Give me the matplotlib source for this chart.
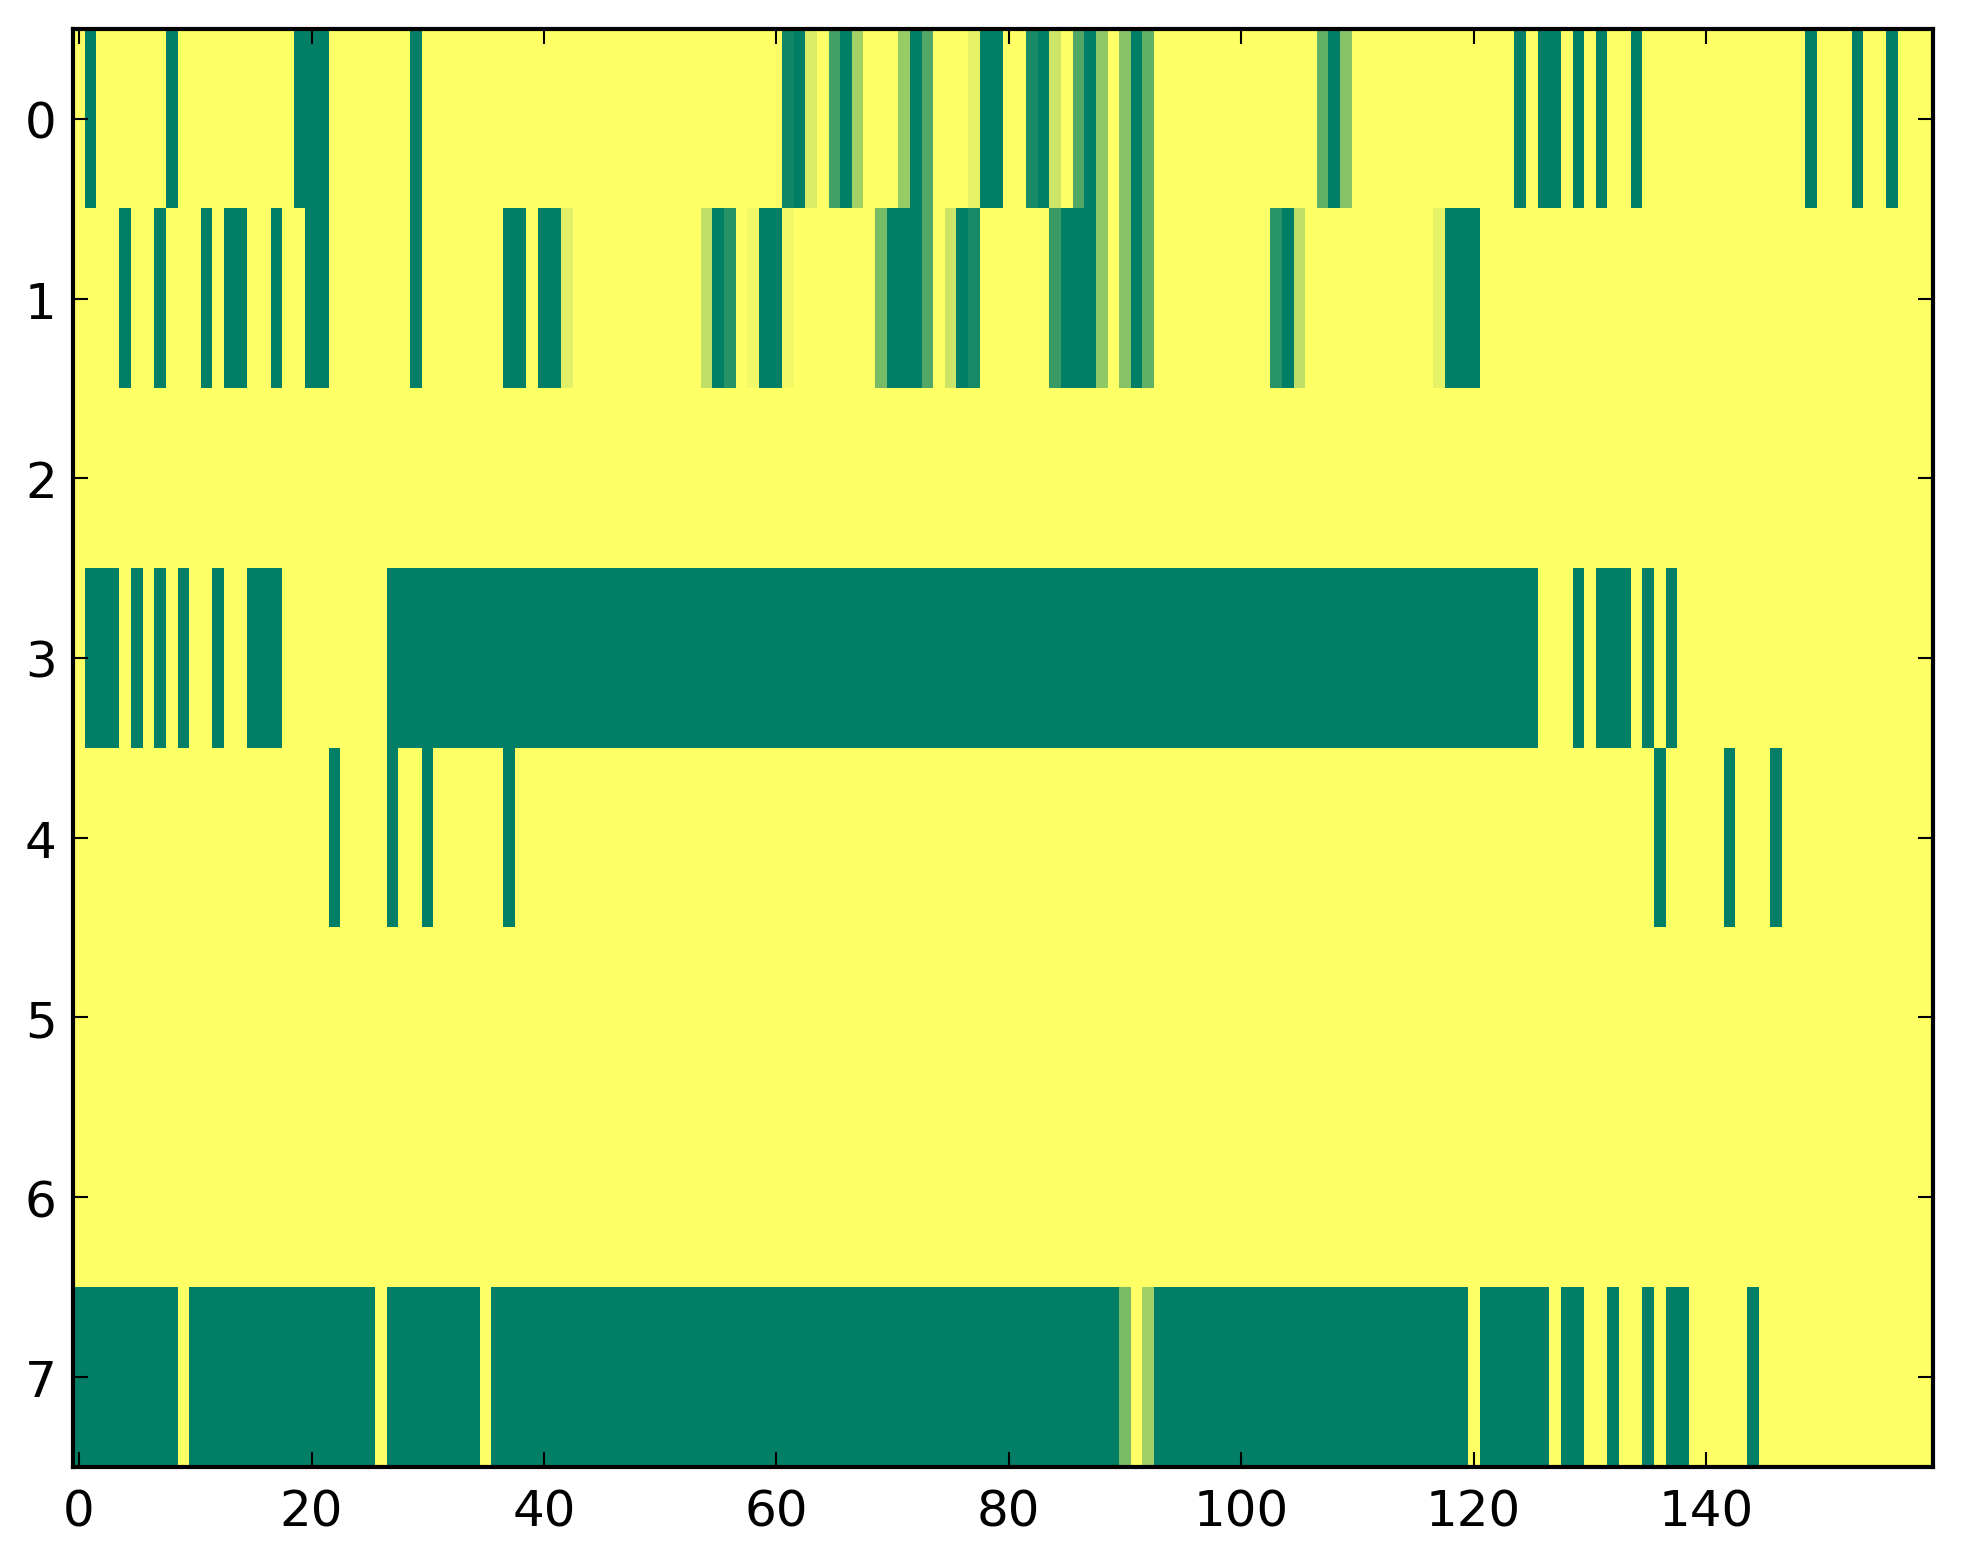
import numpy as np
import matplotlib
matplotlib.use("Agg")
import matplotlib.pyplot as plt

n_cols = 160
row_labels = [0, 1, 2, 3, 4, 5, 6, 7]
xticks = [0, 20, 40, 60, 80, 100, 120, 140]

# Each row: segments (first_col, last_col, value); all other cells are 0
row0 = [(1, 1, 1), (8, 8, 1), (19, 21, 1), (29, 29, 1), (61, 61, .94), (62, 62, 1),
        (63, 63, .15), (65, 65, .74), (66, 66, 1), (67, 67, .36), (71, 71, .41),
        (72, 72, 1), (73, 73, .68), (77, 77, .10), (78, 79, 1), (82, 82, .91),
        (83, 83, 1), (84, 84, .20), (86, 86, .68), (87, 87, 1), (88, 88, .43),
        (90, 90, .47), (91, 91, 1), (92, 92, .62), (107, 107, .62), (108, 108, 1),
        (109, 109, .47), (124, 124, 1), (126, 127, 1), (129, 129, 1), (131, 131, 1),
        (134, 134, 1), (149, 149, 1), (153, 153, 1), (156, 156, 1)]
row1 = [(4, 4, 1), (7, 7, 1), (11, 11, 1), (13, 14, 1), (17, 17, 1), (20, 21, 1),
        (29, 29, 1), (37, 38, 1), (40, 41, 1), (42, 42, .12), (54, 54, .25),
        (55, 55, 1), (56, 56, .85), (58, 58, .05), (59, 60, 1), (61, 61, .05),
        (69, 69, .53), (70, 72, 1), (73, 73, .68), (75, 75, .20), (76, 76, 1),
        (77, 77, .91), (84, 84, .78), (85, 87, 1), (88, 88, .43), (90, 90, .47),
        (91, 91, 1), (92, 92, .62), (103, 103, .84), (104, 104, 1), (105, 105, .25),
        (117, 117, .10), (118, 120, 1)]
row2 = []
row3 = [(1, 3, 1), (5, 5, 1), (7, 7, 1), (9, 9, 1), (12, 12, 1), (15, 17, 1),
        (27, 125, 1), (129, 129, 1), (131, 133, 1), (135, 135, 1), (137, 137, 1)]
row4 = [(22, 22, 1), (27, 27, 1), (30, 30, 1), (37, 37, 1), (136, 136, 1),
        (142, 142, 1), (146, 146, 1)]
row5 = []
row6 = []
row7 = [(0, 8, 1), (10, 25, 1), (27, 34, 1), (36, 89, 1), (90, 90, .53),
        (92, 92, .37), (93, 119, 1), (121, 126, 1), (128, 129, 1), (132, 132, 1),
        (135, 135, 1), (137, 138, 1), (144, 144, 1)]

rows = [row0, row1, row2, row3, row4, row5, row6, row7]
data = np.zeros((len(rows), n_cols))
for r, segs in enumerate(rows):
    for a, b, v in segs:
        data[r, a:b + 1] = v

plt.rcParams['font.family'] = ['DejaVu Sans']
fig = plt.figure(figsize=(1963 / 300, 1564 / 300), dpi=300, facecolor='white')
ax = fig.add_axes([73.3 / 1963, 1 - 1467.6 / 1564, (1932.7 - 73.3) / 1963, (1467.6 - 30) / 1564])
ax.imshow(data, cmap='summer_r', vmin=0, vmax=1, aspect='auto', interpolation='nearest')
ax.set_xlim(-0.5, n_cols - 0.5)
ax.set_ylim(len(rows) - 0.5, -0.5)
ax.set_xticks(xticks)
ax.set_yticks(range(len(rows)))
ax.set_yticklabels([str(v) for v in row_labels])
ax.tick_params(direction='in', top=True, right=True, length=3.5, width=0.5,
               labelsize=12)
ax.tick_params(axis='x', pad=5)
ax.tick_params(axis='y', pad=4)
for s in ax.spines.values():
    s.set_linewidth(1.0)
fig.savefig('out.png', dpi=300, facecolor='white')
